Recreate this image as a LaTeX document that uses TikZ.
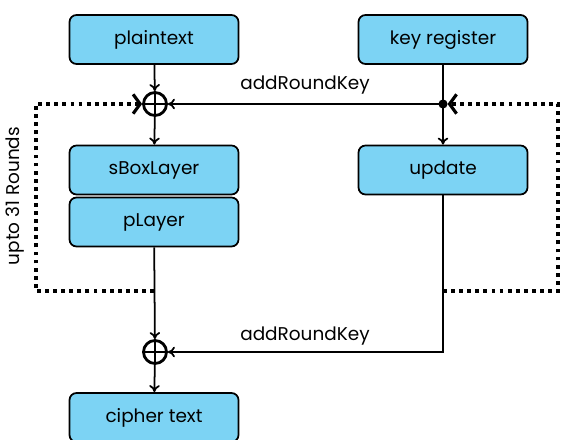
\documentclass[tikz,border=0pt]{standalone}
\usepackage{fontspec}
\setmainfont{Poppins}
\usepackage{tikz}
\usetikzlibrary{positioning}
\usetikzlibrary{arrows.meta}

\definecolor{boxblue}{RGB}{124,211,244}

\tikzset{
  block/.style={draw, line width=1pt, rounded corners=4pt, fill=boxblue,
    minimum width=3.38cm, minimum height=0.98cm, font=\fontsize{10.5}{13}\selectfont},
  xorgate/.style={circle, draw, line width=1.6pt, minimum size=0.46cm, inner sep=0pt,
    path picture={\draw[line width=1pt] (path picture bounding box.north) -- (path picture bounding box.south)
      (path picture bounding box.west) -- (path picture bounding box.east);}},
  flow/.style={line width=1pt, -{To[length=4pt,width=6pt]}},
  roundloop/.style={line width=2.2pt, dash pattern=on 2.2pt off 2.4pt,
    -{Straight Barb[length=4pt,width=11pt,line width=1.8pt]}},
}

\begin{document}
\begin{tikzpicture}[font=\fontsize{10.5}{13}\selectfont]

\useasboundingbox (0,0) rectangle (11.24,8.78);

% data path
\node[block] (plain) at (3.08,7.99) {plaintext};
\node[xorgate] (xorA) at (3.1,6.7) {};
\node[block] (sbox) at (3.08,5.38) {sBoxLayer};
\node[block] (perm) at (3.08,4.34) {pLayer};
\node[xorgate] (xorB) at (3.1,1.74) {};
\node[block] (cipher) at (3.08,0.43) {cipher text};

% key schedule
\node[block] (key) at (8.86,7.99) {key register};
\node[block] (upd) at (8.86,5.38) {update};
\coordinate (tap) at (8.86,6.7);
\coordinate (updout) at (8.86,1.74);

\draw[flow] (plain) -- (xorA);
\draw[flow] (xorA) -- (sbox);
\draw[flow] (perm) -- (xorB);
\draw[flow] (xorB) -- (cipher);

\draw[flow] (key) -- (upd);
\draw[flow] (tap) -- (xorA);
\fill (tap) circle (2.6pt);
\draw[flow] (upd.south) -- (updout) -- (xorB);

\node at (6.1,7.08) {addRoundKey};
\node at (6.1,2.06) {addRoundKey};

% round loops
\coordinate (loopL) at (3.08,2.96);
\coordinate (loopR) at (8.86,2.96);
\draw[roundloop] (loopL) -- (0.72,2.96) -- (0.72,6.7) -- (xorA.west);
\draw[roundloop] (loopR) -- (11.16,2.96) -- (11.16,6.7) -- ([xshift=2.6pt]tap);

\node[rotate=90] at (0.3,4.86) {upto 31 Rounds};

\end{tikzpicture}
\end{document}
